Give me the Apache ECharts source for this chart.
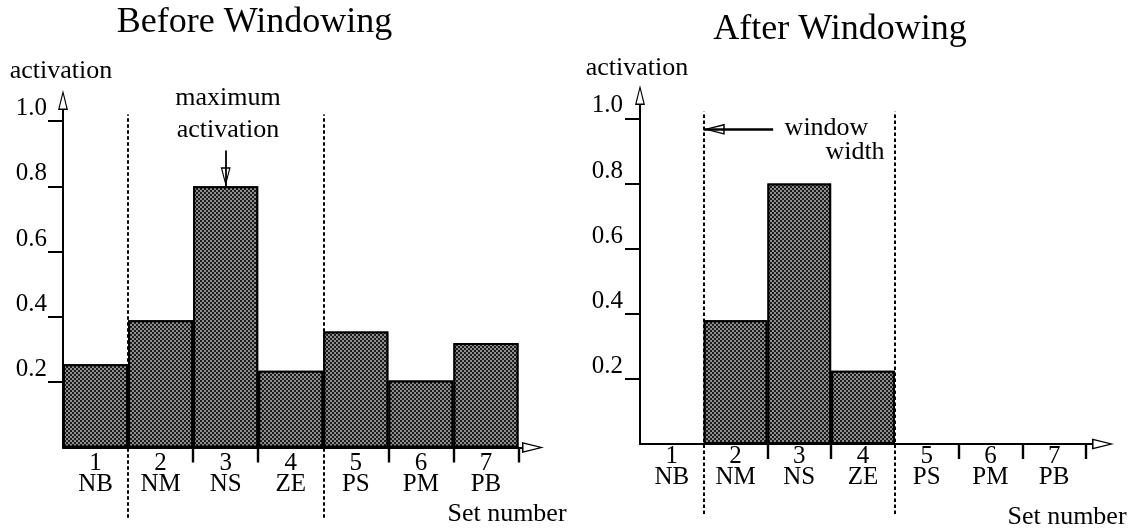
<!DOCTYPE html>
<html><head><meta charset="utf-8">
<script src="https://cdn.jsdelivr.net/npm/echarts@6/dist/echarts.min.js"></script>
<style>html,body{margin:0;padding:0;background:#fff}#c{width:1145px;height:532px}</style>
</head><body><div id="c"></div>
<script>
// ---- data ----
const categories = ['NB', 'NM', 'NS', 'ZE', 'PS', 'PM', 'PB'];
const setNumbers = ['1', '2', '3', '4', '5', '6', '7'];
const beforeValues = [0.255, 0.39, 0.8, 0.235, 0.355, 0.205, 0.32];
const afterValues = [0, 0.38, 0.8, 0.225, 0, 0, 0];
const yTicks = [0.2, 0.4, 0.6, 0.8, 1.0];
const windowEdges = [1, 4];          // set-number boundaries of the window
const titles = ['Before Windowing', 'After Windowing'];

// ---- style ----
const FONT = 'Liberation Serif';
const BLACK = '#000';
const AXIS_ARROW = 'path://M5,0 L10,20 L0,20 Z M5,4.5 L1.6,18.6 L8.4,18.6 Z M5,40 L5,40';
const BACK_ARROW = 'path://M5,0 L5,0 M5,20 L10,40 L0,40 Z M5,24.5 L1.6,38.6 L8.4,38.6 Z';
const Y_MIN = -0.215, Y_MAX = 1.02;
const L = { x0: 63, zero: 447.5, unit: 326.5, width: 455.5, arrowX: 522, arrowY: 110, labelMargin: 5 };
const R = { x0: 640, zero: 444, unit: 325.7, width: 446, arrowX: 1092, arrowY: 105, labelMargin: 2 };

const barDecal = {
  symbol: 'rect', symbolSize: 1, color: 'rgba(255,255,255,0.5)',
  dashArrayX: [[1.5, 1.5], [0, 1.5, 1.5, 0]], dashArrayY: [1.5, 0]
};

function grids(p) {
  return [
    { left: p.x0, top: p.zero - Y_MAX * p.unit, width: p.width, height: Y_MAX * p.unit, outerBoundsMode: 'none' },
    { left: p.x0, top: p.arrowY, width: p.arrowX - p.x0, height: p.zero - p.arrowY, outerBoundsMode: 'none' },
    { left: p.x0, top: p.zero - Y_MAX * p.unit, width: p.width, height: (Y_MAX - Y_MIN) * p.unit, outerBoundsMode: 'none' }
  ];
}
function catAxis(gridIndex, margin) {
  return {
    type: 'category', gridIndex, data: categories, boundaryGap: true,
    axisLine: { show: false },
    axisTick: { show: true, length: 15, interval: (i) => i >= 1 && !windowEdges.includes(i),
      lineStyle: { color: BLACK, width: 2.4 } },
    axisLabel: { interval: 0, margin, color: BLACK, fontFamily: FONT, fontSize: 25, lineHeight: 21,
      formatter: (v, i) => setNumbers[i] + '\n' + v },
    splitLine: { show: false }
  };
}
function hiddenAxis(gridIndex, min, max) {
  return { type: 'value', gridIndex, min, max, show: false };
}
function decoAxis(gridIndex, size) {
  return { type: 'value', gridIndex, min: 0, max: 1,
    axisLine: { show: true, onZero: false, symbol: ['none', AXIS_ARROW], symbolSize: size, lineStyle: { color: BLACK, width: 2 } },
    axisTick: { show: false }, axisLabel: { show: false }, splitLine: { show: false } };
}
function dataY(gridIndex, margin) {
  return { type: 'value', gridIndex, min: 0, max: Y_MAX,
    axisLine: { show: false },
    axisTick: { show: true, length: 15, customValues: yTicks, lineStyle: { color: BLACK, width: 2 } },
    axisLabel: { customValues: yTicks, margin, verticalAlign: 'bottom', color: BLACK, fontFamily: FONT, fontSize: 25,
      formatter: (v) => v.toFixed(1) },
    splitLine: { show: false } };
}
function bars(xi, yi, values, extra) {
  return Object.assign({
    type: 'bar', xAxisIndex: xi, yAxisIndex: yi, data: values, barCategoryGap: '0%',
    itemStyle: { color: '#1c1c1c', borderColor: BLACK, borderWidth: 2, decal: barDecal },
    silent: true
  }, extra || {});
}
function windowLines(xi, yi) {
  return { type: 'line', xAxisIndex: xi, yAxisIndex: yi, data: [], silent: true,
    markLine: { silent: true, symbol: ['none', 'none'], label: { show: false },
      lineStyle: { color: BLACK, width: 2, type: [3.5, 2.5] },
      data: windowEdges.map(e => ({ xAxis: e })) } };
}

const maxIdx = beforeValues.indexOf(Math.max(...beforeValues));
const maxVal = beforeValues[maxIdx];

const option = {
  backgroundColor: '#fff',
  animation: false,
  aria: { enabled: true, decal: { show: false } },
  grid: grids(L).concat(grids(R)),
  xAxis: [catAxis(0, L.labelMargin), decoAxis(1, [11, 44]), hiddenAxis(2, 0, categories.length),
          catAxis(3, R.labelMargin), decoAxis(4, [11, 44]), hiddenAxis(5, 0, categories.length)],
  yAxis: [dataY(0, 16), decoAxis(1, [10, 40]), hiddenAxis(2, Y_MIN, Y_MAX),
          dataY(3, 17), decoAxis(4, [10, 40]), hiddenAxis(5, Y_MIN, Y_MAX)],
  series: [
    bars(0, 0, beforeValues, {
      markLine: { silent: true, label: { show: false }, symbol: ['none', 'none'],
        lineStyle: { color: BLACK, width: 1.8, type: 'solid' },
        data: [[
          { coord: [categories[maxIdx], maxVal + 0.11], symbol: 'none' },
          { coord: [categories[maxIdx], maxVal], symbol: BACK_ARROW, symbolSize: [10, 38] }
        ]] }
    }),
    windowLines(2, 2),
    bars(3, 3, afterValues),
    windowLines(5, 5),
    { type: 'line', xAxisIndex: 5, yAxisIndex: 5, data: [], silent: true,
      markLine: { silent: true, label: { show: false }, symbol: ['none', 'none'],
        lineStyle: { color: BLACK, width: 2.6, type: 'solid' },
        data: [[
          { coord: [windowEdges[0] + 1.09, 0.966], symbol: 'none' },
          { coord: [windowEdges[0], 0.966], symbol: BACK_ARROW, symbolSize: [11, 42] }
        ]] } }
  ],
  graphic: [
    txt(titles[0], 254.6, 23, 36),
    txt(titles[1], 840, 30, 36),
    txt('activation', 61, 71, 26),
    txt('activation', 637, 68, 26),
    txt('maximum', 228, 98, 26),
    txt('activation', 228, 130, 26),
    txt('window', 826.5, 128, 26),
    txt('width', 855, 152, 26),
    txt('Set number', 507, 514, 26),
    txt('Set number', 1067, 517, 26)
  ]
};
function txt(text, x, y, size) {
  return { type: 'text', x, y, silent: true,
    style: { text, fill: BLACK, fontFamily: FONT, fontSize: size,
      align: 'center', verticalAlign: 'middle', textAlign: 'center', textVerticalAlign: 'middle' } };
}
const chart = echarts.init(document.getElementById('c'));
chart.setOption(option);
</script>
</body></html>
